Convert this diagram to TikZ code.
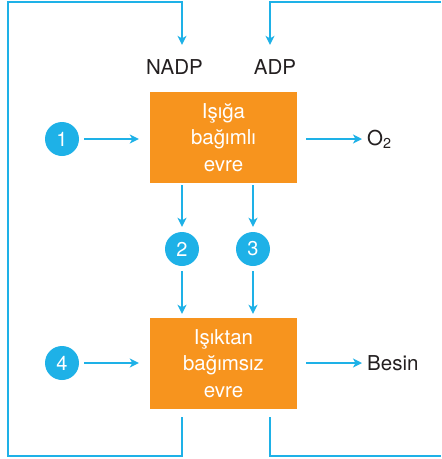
\documentclass[tikz,border=0pt]{standalone}
\usepackage{fontspec}
\setmainfont{TeX Gyre Heros}
\usetikzlibrary{arrows.meta,positioning}
\definecolor{cyanline}{HTML}{1EB1E7}
\definecolor{evreorange}{HTML}{F7941E}
\definecolor{inktext}{HTML}{231F20}

\begin{document}
\begin{tikzpicture}[x=1pt,y=-1pt,>={Stealth[length=9pt,width=9pt,inset=2.5pt]},
        flow/.style={draw=cyanline,line width=1.5pt,->},
        backline/.style={draw=cyanline,line width=1.5pt},
        evre/.style={fill=evreorange,text=white,minimum width=147pt,minimum height=91pt,
                     align=center,inner sep=0pt,font=\fontsize{20.5}{26.5}\selectfont},
        num/.style={circle,fill=cyanline,text=white,minimum size=34pt,inner sep=0pt,
                    font=\fontsize{20}{24}\selectfont},
        lbl/.style={text=inktext,inner sep=0pt,font=\fontsize{20.5}{24}\selectfont}]
        \useasboundingbox (0,0) rectangle (442,459);

        \node[evre] (light) at (223.5,137.5) {Işığa\\bağımlı\\evre};
        \node[evre] (dark) at (223.5,363.5) {Işıktan\\bağımsız\\evre};
        \node[num] (n1) at (62,139) {1};
        \node[num] (n2) at (182,249) {2};
        \node[num] (n3) at (253,249) {3};
        \node[num] (n4) at (62,363) {4};
        \node[lbl,anchor=base] (nadp) at (174.5,74) {NADP};
        \node[lbl,anchor=base] (adp) at (275,74) {ADP};
        \node[lbl,anchor=west] (o2) at (367,139) {O\textsubscript{2}};
        \node[lbl,anchor=west] (besin) at (367,363) {Besin};

        % corners of the return lines
        \coordinate (lt) at (8,2);
        \coordinate (lb) at (8,456);
        \coordinate (rt) at (441,2);
        \coordinate (rb) at (441,456);
        \coordinate (rcol) at (270,456);

        % inputs and outputs
        \draw[flow,shorten <=5pt,shorten >=11pt] (n1) -- (n1 -| light.west);
        \draw[flow,shorten <=5pt,shorten >=11pt] (n4) -- (n4 -| dark.west);
        \draw[flow,shorten <=9pt,shorten >=5pt] (light.east |- n1) -- (o2.west |- n1);
        \draw[flow,shorten <=9pt,shorten >=5pt] (dark.east |- n4) -- (besin.west |- n4);

        % between the two phases
        \draw[flow,shorten <=2pt,shorten >=5pt] (light.south -| n2) -- (n2);
        \draw[flow,shorten <=2pt,shorten >=5pt] (light.south -| n3) -- (n3);
        \draw[flow,shorten <=5pt,shorten >=4pt] (n2) -- (dark.north -| n2);
        \draw[flow,shorten <=5pt,shorten >=4pt] (n3) -- (dark.north -| n3);

        % return lines
        \draw[flow,shorten <=8pt,shorten >=14pt] (dark.south -| n2) -- (lb -| n2) -- (lb)
                -- (lt) -- (lt -| n2) -- (nadp.north -| n2);
        \draw[backline,shorten <=8pt] (dark.south -| rcol) -- (rcol) -- (rb);
        \draw[flow,shorten >=14pt] (rt) -- (rt -| rcol) -- (adp.north -| rcol);
\end{tikzpicture}
\end{document}
